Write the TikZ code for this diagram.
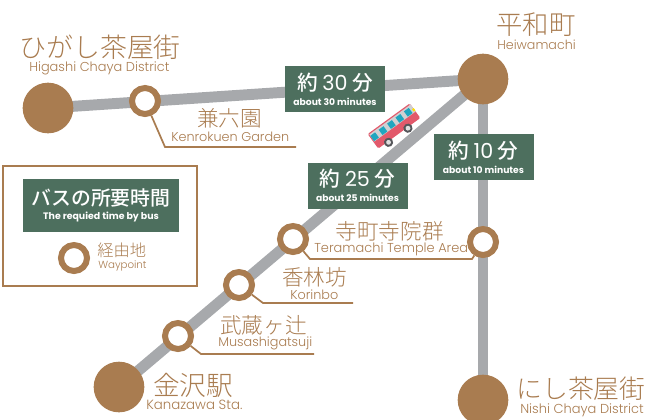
\documentclass[tikz,border=0pt]{standalone}
\usepackage{fontspec}
\setmainfont{Poppins Light}[BoldFont=Poppins Bold]
\newfontfamily\digf{Poppins}
\newfontfamily\cjk{Noto Sans CJK JP Light}[BoldFont=Noto Sans CJK JP Medium]
\usetikzlibrary{backgrounds}
\definecolor{brn}{HTML}{A97C50}
\definecolor{grn}{HTML}{4D6F5E}
\definecolor{gry}{HTML}{A7A9AC}
\definecolor{busred}{HTML}{E2596B}
\definecolor{busgry}{HTML}{CFD0D2}
\definecolor{bussky}{HTML}{1FA6BF}
\definecolor{buswh}{HTML}{55565A}
\newcommand{\jtxt}[2]{{\fontsize{#1}{#1}\selectfont\cjk #2}}
\newcommand{\ltxt}[2]{{\fontsize{#1}{#1}\selectfont #2}}
\newcommand{\numtxt}[1]{{\fontsize{15.5}{15.5}\selectfont\digf\mdseries #1}}
\tikzset{
 x=0.75pt,y=-0.75pt,
 station/.style={circle,fill=brn,minimum size=38pt,inner sep=0pt},
 waypt/.style={circle,draw=brn,fill=white,line width=4.5pt,minimum size=19.5pt,inner sep=0pt},
 route/.style={draw=gry,line width=8.2pt},
 leader/.style={draw=brn,line width=1.3pt},
 timebox/.style={fill=grn,minimum width=75pt,minimum height=34.5pt,inner sep=0pt,text=white,align=center},
 jp/.style={text=brn,inner sep=0pt,anchor=west},
 en/.style={text=brn,inner sep=0pt,anchor=west},
}
\begin{document}
\begin{tikzpicture}
\useasboundingbox (0,0) rectangle (648,419);
\node[station] (hig) at (48,108) {};
\node[station] (hei) at (483,79) {};
\node[station] (kan) at (119,387) {};
\node[station] (nis) at (483,400) {};
\node[waypt] (ken) at (145,101) {};
\node[waypt] (mus) at (178,336) {};
\node[waypt] (kor) at (239,285) {};
\node[waypt] (ter) at (293,239) {};
\node[waypt] (tee) at (483,242) {};
\coordinate (c1) at (165,147); \coordinate (c1e) at (296,147);
\coordinate (c2) at (201,354); \coordinate (c2e) at (314,354);
\coordinate (c3) at (263,303); \coordinate (c3e) at (353,303);
\coordinate (c4) at (310,259); \coordinate (c4e) at (472,259);
\begin{scope}[on background layer]
\draw[route] (hig.center) -- (hei.center);
\draw[route] (hei.center) -- (kan.center);
\draw[route] (hei.center) -- (nis.center);
\draw[leader] (ken) -- (c1) -- (c1e);
\draw[leader] (mus) -- (c2) -- (c2e);
\draw[leader] (kor) -- (c3) -- (c3e);
\draw[leader] (ter) -- (c4) -- (c4e) -- (tee);
\end{scope}
% boxes
\node[timebox] (b30) at (335,89) {\jtxt{15.5}{\bfseries 約 \numtxt{30} 分}\\[-1pt]\ltxt{6.9}{\bfseries about 30 minutes}};
\node[timebox] (b25) at (357.5,185.5) {\jtxt{15.5}{\bfseries 約 \numtxt{25} 分}\\[-1pt]\ltxt{6.9}{\bfseries about 25 minutes}};
\node[timebox] (b10) at (483.5,157) {\jtxt{15.5}{\bfseries 約 \numtxt{10} 分}\\[-1pt]\ltxt{6.9}{\bfseries about 10 minutes}};
% bus
\begin{scope}[shift={(394,126)},rotate=36]
\fill[busred,rounded corners=1pt] (-26,-9) rectangle (26,9);
\fill[busgry] (-25,-7.7) rectangle (26,1);
\foreach \i in {-22,-11.6,-1.2,9.2,19.6}{\fill[bussky] (\i-3,-6) rectangle (\i+3,0.5);}
\fill[yellow!80!orange] (24.5,-3) rectangle (26.5,0);
\foreach \i in {-14,10}{\fill[buswh] (\i,10) circle (4.6); \fill[gray!25] (\i,10) circle (2.4);}
\end{scope}
% legend
\node[draw=brn,line width=1.5pt,fill=none,minimum width=145pt,minimum height=90pt,inner sep=0pt] (leg) at (100,226) {};
\node[fill=grn,minimum width=117pt,minimum height=39.7pt,inner sep=0pt,text=white,align=center] (legt) at (101,205.5) {\jtxt{14.9}{\bfseries バスの所要時間}\\[-1pt]\ltxt{7.05}{\bfseries The requied time by bus}};
\node[waypt] (lgw) at (74,258) {};
\node[jp] (lgj) at (97,250) {\jtxt{12.2}{経由地}};
\node[en] (lge) at (98,266) {\ltxt{7.7}{Waypoint}};
% labels
\node[jp] at (19,47) {\jtxt{20.2}{ひがし茶屋街}};
\node[en] at (29,68) {\ltxt{9.7}{Higashi Chaya District}};
\node[jp] at (197,118) {\jtxt{16.2}{兼六園}};
\node[en] at (171,137) {\ltxt{9.6}{Kenrokuen Garden}};
\node[jp] at (496,25) {\jtxt{19.8}{平和町}};
\node[en] at (497,45) {\ltxt{9.5}{Heiwamachi}};
\node[jp] at (335.5,231) {\jtxt{16.2}{寺町寺院群}};
\node[en] at (314,249) {\ltxt{9.7}{Teramachi Temple Area}};
\node[jp] at (282,277) {\jtxt{16.2}{香林坊}};
\node[en] at (290,295) {\ltxt{9.6}{Korinbo}};
\node[jp] at (220,325) {\jtxt{16.2}{武蔵ヶ辻}};
\node[en] at (218,343) {\ltxt{9.6}{Musashigatsuji}};
\node[jp] at (153,385) {\jtxt{20}{金沢駅}};
\node[en] at (146,405) {\ltxt{10}{Kanazawa Sta.}};
\node[jp] at (516,389) {\jtxt{19.4}{にし茶屋街}};
\node[en] at (520,410) {\ltxt{9.75}{Nishi Chaya District}};
\end{tikzpicture}
\end{document}
